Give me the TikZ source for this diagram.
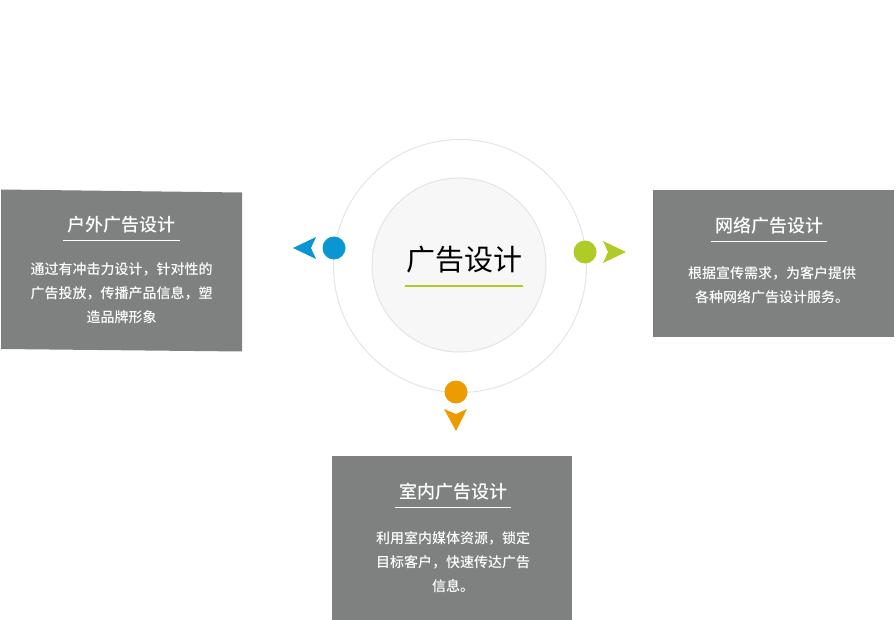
\documentclass[tikz,border=0pt]{standalone}
\usepackage{fontspec}
\newfontfamily\cjk{Noto Sans CJK SC}
\newfontfamily\cjkmid{Noto Sans CJK SC Medium}
\usepackage{tikz}
\usetikzlibrary{positioning}
\definecolor{boxgray}{HTML}{7F8080}
\definecolor{ringgray}{HTML}{E4E4E4}
\definecolor{coregray}{HTML}{F7F7F7}
\definecolor{adblue}{HTML}{0A96D2}
\definecolor{adgreen}{HTML}{AFCB25}
\definecolor{adorange}{HTML}{EC9C00}
\tikzset{%
  % Specifications for style of nodes:
        card/.style = {fill=boxgray, draw=none},
   cardtitle/.style = {text=white, inner xsep=4pt, inner ysep=6.5pt,
                       font=\cjkmid\fontsize{18}{20}\selectfont},
    cardbody/.style = {text=white, align=center, inner sep=0pt,
                       font=\cjkmid\fontsize{14}{24}\selectfont},
   underline/.style = {draw=white, line width=1pt},
         dot/.style = {circle, minimum size=23pt, inner sep=0pt, draw=none},
}
\begin{document}
\begin{tikzpicture}[x=1pt, y=-1pt]
\useasboundingbox (0,0) rectangle (896,620);

% centre
\node (ring) [circle, draw=ringgray, line width=1pt, minimum size=253pt,
              inner sep=0pt] at (460,266) {};
\node (core) [circle, draw=ringgray, fill=coregray, line width=1pt,
              minimum size=174pt, inner sep=0pt] at (459,265) {};
\node (main) [font=\cjk\fontsize{29}{32}\selectfont, text=black,
              inner xsep=1pt, inner ysep=12pt] at (464,260) {广告设计};
\draw[draw=adgreen, line width=2pt] (main.south west) -- (main.south east);

% dots and arrow tips
\node (dotL) [dot, fill=adblue]   at (334,248) {};
\node (dotR) [dot, fill=adgreen]  at (585,252) {};
\node (dotB) [dot, fill=adorange] at (456,392) {};
\fill[adblue]   (293,248) -- (316,237) -- (311,248) -- (316,259) -- cycle;
\fill[adgreen]  (626,252) -- (603,241) -- (608,252) -- (603,263) -- cycle;
\fill[adorange] (456,431) -- (444,409) -- (456,414) -- (467,409) -- cycle;

% outdoor
\fill[card] (1,189.5) -- (242,192.5) -- (242,351.5) -- (1,349) -- cycle;
\node (titleL) [cardtitle] at (121.5,225) {户外广告设计};
\draw[underline] (titleL.south west) -- (titleL.south east);
\node (bodyL)  [cardbody] at (121.5,293.5)
  {通过有冲击力设计，针对性的\\广告投放，传播产品信息，塑\\造品牌形象};

% online
\node (cardR) [card, minimum width=241pt, minimum height=147pt,
               inner sep=0pt] at (773.5,263.5) {};
\node (titleR) [cardtitle] at (769,226) {网络广告设计};
\draw[underline] (titleR.south west) -- (titleR.south east);
\node (bodyR)  [cardbody] at (772,285.5)
  {根据宣传需求，为客户提供\\各种网络广告设计服务。};

% indoor
\node (cardB) [card, minimum width=240pt, minimum height=164pt,
               inner sep=0pt] at (452,538) {};
\node (titleB) [cardtitle] at (453,492) {室内广告设计};
\draw[underline] (titleB.south west) -- (titleB.south east);
\node (bodyB)  [cardbody] at (453,562)
  {利用室内媒体资源，锁定\\目标客户，快速传达广告\\信息。};
\end{tikzpicture}
\end{document}
